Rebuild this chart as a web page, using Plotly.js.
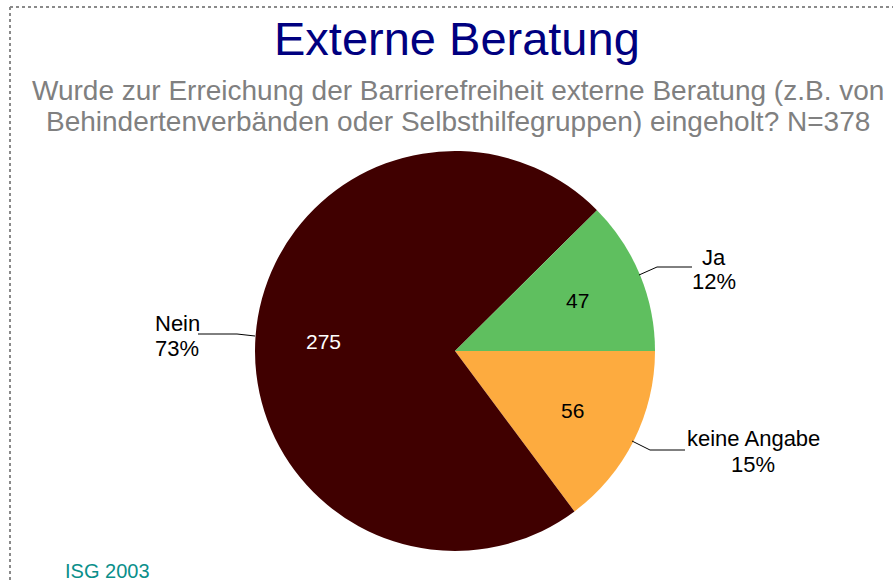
<!DOCTYPE html>
<html>
<head>
<meta charset="utf-8">
<script src="https://cdn.plot.ly/plotly-3.0.1.min.js"></script>
<style>
  html, body { margin: 0; padding: 0; background: #fff; }
  #myPlot { width: 893px; height: 583px; }
</style>
</head>
<body>
<div id="myPlot"></div>
<script>
// data (clockwise from 3 o'clock)
const labels = ["keine Angabe", "Nein", "Ja"];
const counts = [56, 275, 47];
const sliceColors = ["#fdab3f", "#400000", "#5fbf5f"];
const insideTextColors = ["#000000", "#ffffff", "#000000"];

const W = 893, H = 583;
const px = x => x / W;
const py = y => 1 - y / H;

// pie geometry in page pixels
const CX = 455, CY = 351, R = 200;

const total = counts.reduce((a, b) => a + b, 0);
const pct = counts.map(v => Math.round(v / total * 100) + "%");

const font = "Liberation Sans, Arial, sans-serif";

const data = [{
    type: "pie",
    labels: labels,
    values: counts,
    sort: false,
    direction: "clockwise",
    rotation: 90,
    marker: { colors: sliceColors, line: { width: 0 } },
    textinfo: "none",
    domain: { x: [px(CX - R), px(CX + R)], y: [py(CY + R), py(CY - R)] },
    hoverinfo: "label+value+percent"
}];

// outside labels: name and percent, each line placed on its own
const outLabels = [
    { i: 0, x: 753, y1: 438, y2: 464 },
    { i: 1, x: 177, y1: 323, y2: 348 },
    { i: 2, x: 714, y1: 257, y2: 281 }
];
const leaders = [
    [[632, 441], [650, 450], [685, 450]],
    [[255, 336], [237, 334], [198, 334]],
    [[639, 275], [657, 267], [692, 267]]
];

const annotations = [
    {
        text: "Externe Beratung", x: px(457), y: py(38),
        font: { family: font, size: 47, color: "#000080" }
    },
    {
        text: "Wurde zur Erreichung der Barrierefreiheit externe Beratung (z.B. von",
        x: px(458), y: py(91),
        font: { family: font, size: 28, color: "#808080" }
    },
    {
        text: "Behindertenverbänden oder Selbsthilfegruppen) eingeholt? N=378",
        x: px(458), y: py(122),
        font: { family: font, size: 28, color: "#808080" }
    },
    {
        text: "ISG 2003", x: px(63), y: py(571), xanchor: "left",
        font: { family: font, size: 20, color: "#0a8f8a" }
    }
].map(a => Object.assign({ xref: "paper", yref: "paper", showarrow: false,
                           xanchor: "center", yanchor: "middle" }, a));

// value labels inside the slices, on each slice's middle angle
let acc = 0;
counts.forEach((v, i) => {
    const mid = (acc + v / 2) / total * 2 * Math.PI;   // clockwise from 3 o'clock
    acc += v;
    annotations.push({
        xref: "paper", yref: "paper", showarrow: false,
        x: px(CX + 0.66 * R * Math.cos(mid)),
        y: py(CY + 0.66 * R * Math.sin(mid)),
        xanchor: "center", yanchor: "middle",
        text: String(v),
        font: { family: font, size: 21, color: insideTextColors[i] }
    });
});

outLabels.forEach(o => {
    [[labels[o.i], o.y1], [pct[o.i], o.y2]].forEach(([t, y]) => {
        annotations.push({
            xref: "paper", yref: "paper", showarrow: false,
            x: px(o.x), y: py(y), xanchor: "center", yanchor: "middle",
            text: t,
            font: { family: font, size: 22, color: "#000000" }
        });
    });
});

const shapes = [
    // dotted frame
    { type: "line", xref: "paper", yref: "paper", x0: px(10), y0: py(7), x1: px(893), y1: py(7),
      line: { color: "#8a8a8a", width: 2, dash: "dot" } },
    { type: "line", xref: "paper", yref: "paper", x0: px(10), y0: py(7), x1: px(10), y1: py(583),
      line: { color: "#8a8a8a", width: 2, dash: "dot" } }
];
leaders.forEach(pts => {
    for (let k = 0; k < pts.length - 1; k++) {
        shapes.push({
            type: "line", xref: "paper", yref: "paper",
            x0: px(pts[k][0]), y0: py(pts[k][1]), x1: px(pts[k + 1][0]), y1: py(pts[k + 1][1]),
            line: { color: "#000000", width: 1 }
        });
    }
});

const layout = {
    width: W, height: H,
    margin: { l: 0, r: 0, t: 0, b: 0 },
    paper_bgcolor: "#ffffff",
    showlegend: false,
    font: { family: font },
    annotations: annotations,
    shapes: shapes
};

Plotly.newPlot("myPlot", data, layout, { displayModeBar: false, staticPlot: true });
</script>
</body>
</html>
